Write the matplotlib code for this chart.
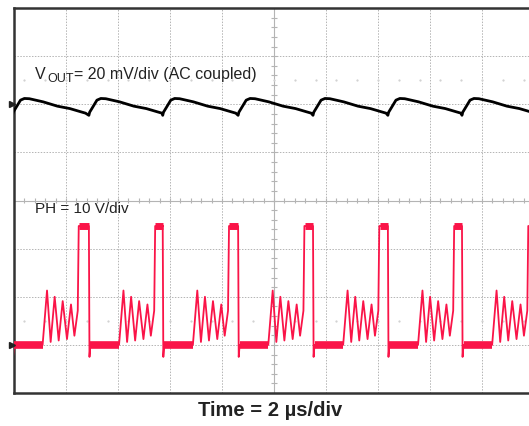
"""Scope capture: output ripple and switch node (PH) waveforms."""

import matplotlib.pyplot as plt
import numpy as np

plt.rcParams["font.family"] = ["Liberation Sans", "DejaVu Sans"]

# time scale: 2 us/div, 10 divisions across
US_PER_DIV = 2.0
PH_V_PER_DIV = 10.0
VOUT_MV_PER_DIV = 20.0
PH_GND_DIV = 1.0  # channel ground marker positions (divisions from bottom)
VOUT_GND_DIV = 6.0

# falling edges of PH (us)
fall_times = [-0.06, 2.88, 5.72, 8.62, 11.5, 14.38, 17.23, 20.1]

# one switching cycle of PH, relative to its falling edge (us, V)
ph_t = [0.0, 0.023, 0.058, 1.16, 1.33, 1.47, 1.624, 1.779, 1.933,
        2.098, 2.252, 2.383, 2.512, 2.55, 2.846]
ph_v = [24.7, -2.5, 0.0, 0.0, 11.3, 0.6, 10.0, 0.9, 9.1,
        1.2, 8.4, 1.9, 7.1, 24.7, 24.7]
ph_low_span = (0.06, 1.16)      # noisy flat low part of the cycle
ph_high_start = 2.56            # noisy flat high part, lasts to next fall
ph_high_v = 24.7

# one cycle of output ripple, relative to the PH falling edge (us, mV)
vo_t = [0.0, 0.03, 0.12, 0.31, 0.46, 0.65, 1.18, 1.73, 2.21, 2.65, 2.81]
vo_v = [-4.6, -3.3, -1.7, 1.7, 2.4, 2.3, 1.0, -0.8, -1.8, -3.2, -3.7]

RED = "#fa1448"
GRID = "#b4b4b4"
TXT = "#222222"

fig = plt.figure(figsize=(5.29, 4.26), dpi=100)
ax = fig.add_axes([14 / 529, 33 / 426, 520 / 529, 385 / 426])
ax.set_xlim(0, 10)
ax.set_ylim(0, 8)

# graticule
ax.set_xticks(range(11))
ax.set_yticks(range(9))
ax.tick_params(length=0, labelbottom=False, labelleft=False)
ax.grid(True, color=GRID, linestyle=(0, (1.5, 1.5)), linewidth=0.7)
ax.axvline(5, color=GRID, linewidth=0.8)
ax.axhline(4, color=GRID, linewidth=0.8)
minor_x = np.arange(0, 10.01, 0.2)
minor_y = np.arange(0, 8.01, 0.2)
ax.vlines(minor_x, 4 - 0.06, 4 + 0.06, color=GRID, linewidth=0.8)
ax.hlines(minor_y, 5 - 0.06, 5 + 0.06, color=GRID, linewidth=0.8)
for yd in (1.5, 6.5):
    ax.plot(minor_x[1::2], [yd] * len(minor_x[1::2]), linestyle="none",
            marker="s", markersize=0.6, color="#d2d2d2")

for s in ax.spines.values():
    s.set_color("#333333")
    s.set_linewidth(1.8)

# build traces from the per-cycle shapes
ph_x, ph_y, vo_x, vo_y = [], [], [], []
for f in fall_times:
    ph_x += [(f + t) / US_PER_DIV for t in ph_t]
    ph_y += [PH_GND_DIV + v / PH_V_PER_DIV for v in ph_v]
    vo_x += [(f + t) / US_PER_DIV for t in vo_t]
    vo_y += [VOUT_GND_DIV + v / VOUT_MV_PER_DIV for v in vo_v]

ax.plot(vo_x, vo_y, color="black", linewidth=2.0, zorder=3)
ax.plot(ph_x, ph_y, color=RED, linewidth=1.3, zorder=3)

# noise bands on the flat parts of PH
for i, f in enumerate(fall_times):
    ax.plot([(f + ph_low_span[0]) / US_PER_DIV, (f + ph_low_span[1]) / US_PER_DIV],
            [PH_GND_DIV, PH_GND_DIV], color=RED, linewidth=5.5,
            solid_capstyle="butt", zorder=3)
    if i + 1 < len(fall_times):
        ax.plot([(f + ph_high_start) / US_PER_DIV, fall_times[i + 1] / US_PER_DIV],
                [PH_GND_DIV + ph_high_v / PH_V_PER_DIV] * 2, color=RED,
                linewidth=5.0, solid_capstyle="butt", zorder=3)

# channel ground markers
ax.plot([-0.04, -0.04], [VOUT_GND_DIV, PH_GND_DIV], linestyle="none",
        marker=">", markersize=4, color="#222222", clip_on=False, zorder=5)

# labels (pixel positions from top-left)
W, H = 529, 426
fig.text(35 / W, 1 - 79 / H, "V", fontsize=11.5, color=TXT, va="baseline")
fig.text(47.5 / W, 1 - 82 / H, "OUT", fontsize=9, color=TXT, va="baseline")
fig.text(74 / W, 1 - 79 / H, "= 20 mV/div (AC coupled)",
         fontsize=11.5, color=TXT, va="baseline")
fig.text(35 / W, 1 - 213 / H, "PH = 10 V/div",
         fontsize=11, color=TXT, va="baseline")
fig.text(270 / W, 1 - 416 / H, "Time = 2 µs/div", fontsize=14.5,
         fontweight="bold", color=TXT, ha="center", va="baseline")

fig.savefig("out.png", dpi=100)
